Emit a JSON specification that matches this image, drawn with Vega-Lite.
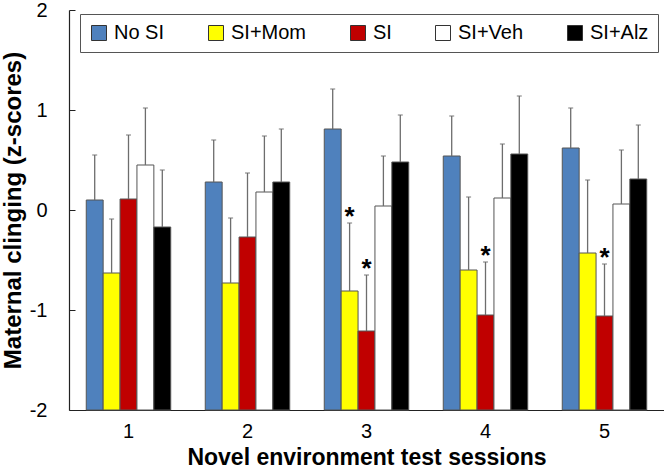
{
  "$schema": "https://vega.github.io/schema/vega-lite/v6.json",
  "width": 595,
  "height": 400,
  "autosize": {"type": "none"},
  "padding": {"left": 69, "top": 10, "right": 0, "bottom": 62},
  "background": "white",
  "config": {
    "font": "Liberation Sans",
    "view": {"stroke": null}
  },
  "data": {
    "values": [
      {"session": "1", "group": "No SI", "value": 0.10, "err": 0.55, "star": ""},
      {"session": "1", "group": "SI+Mom", "value": -0.63, "err": -0.09, "star": ""},
      {"session": "1", "group": "SI", "value": 0.11, "err": 0.75, "star": ""},
      {"session": "1", "group": "SI+Veh", "value": 0.45, "err": 1.02, "star": ""},
      {"session": "1", "group": "SI+Alz", "value": -0.17, "err": 0.40, "star": ""},
      {"session": "2", "group": "No SI", "value": 0.28, "err": 0.70, "star": ""},
      {"session": "2", "group": "SI+Mom", "value": -0.73, "err": -0.08, "star": ""},
      {"session": "2", "group": "SI", "value": -0.27, "err": 0.37, "star": ""},
      {"session": "2", "group": "SI+Veh", "value": 0.18, "err": 0.74, "star": ""},
      {"session": "2", "group": "SI+Alz", "value": 0.28, "err": 0.81, "star": ""},
      {"session": "3", "group": "No SI", "value": 0.81, "err": 1.21, "star": ""},
      {"session": "3", "group": "SI+Mom", "value": -0.81, "err": -0.13, "star": "*"},
      {"session": "3", "group": "SI", "value": -1.21, "err": -0.65, "star": "*"},
      {"session": "3", "group": "SI+Veh", "value": 0.04, "err": 0.54, "star": ""},
      {"session": "3", "group": "SI+Alz", "value": 0.48, "err": 0.95, "star": ""},
      {"session": "4", "group": "No SI", "value": 0.54, "err": 0.94, "star": ""},
      {"session": "4", "group": "SI+Mom", "value": -0.60, "err": 0.13, "star": ""},
      {"session": "4", "group": "SI", "value": -1.05, "err": -0.52, "star": "*"},
      {"session": "4", "group": "SI+Veh", "value": 0.12, "err": 0.66, "star": ""},
      {"session": "4", "group": "SI+Alz", "value": 0.56, "err": 1.14, "star": ""},
      {"session": "5", "group": "No SI", "value": 0.62, "err": 1.02, "star": ""},
      {"session": "5", "group": "SI+Mom", "value": -0.43, "err": 0.30, "star": ""},
      {"session": "5", "group": "SI", "value": -1.06, "err": -0.54, "star": "*"},
      {"session": "5", "group": "SI+Veh", "value": 0.06, "err": 0.60, "star": ""},
      {"session": "5", "group": "SI+Alz", "value": 0.31, "err": 0.85, "star": ""}
    ]
  },
  "encoding": {
    "x": {
      "field": "session",
      "type": "nominal",
      "scale": {"paddingInner": 0.29, "paddingOuter": 0.145},
      "axis": {
        "title": "Novel environment test sessions",
        "titleFontSize": 23,
        "titleFontWeight": "bold",
        "titleColor": "#000",
        "titlePadding": 5,
        "labelAngle": 0,
        "labelFontSize": 20,
        "labelColor": "#000",
        "labelPadding": 11,
        "ticks": false,
        "domainColor": "#222",
        "domainWidth": 1.2
      }
    },
    "xOffset": {
      "field": "group",
      "type": "nominal",
      "sort": ["No SI", "SI+Mom", "SI", "SI+Veh", "SI+Alz"],
      "scale": {"paddingInner": 0, "paddingOuter": 0}
    }
  },
  "layer": [
    {
      "mark": {"type": "bar", "stroke": "#555", "strokeWidth": 1},
      "encoding": {
        "y": {
          "field": "value",
          "type": "quantitative",
          "scale": {"domain": [-2, 2], "nice": false, "zero": false},
          "axis": {
            "title": "Maternal clinging (z-scores)",
            "titleFontSize": 24,
            "titleFontWeight": "bold",
            "titleColor": "#000",
            "titlePadding": 4,
            "values": [-2, -1, 0, 1, 2],
            "labelExpr": "'' + datum.value",
            "grid": false,
            "labelFontSize": 20,
            "labelColor": "#000",
            "tickSize": -6,
            "tickColor": "#222",
            "labelPadding": 28,
            "domainColor": "#222",
            "domainWidth": 1.2
          }
        },
        "y2": {"datum": -2},
        "color": {
          "field": "group",
          "type": "nominal",
          "sort": ["No SI", "SI+Mom", "SI", "SI+Veh", "SI+Alz"],
          "scale": {
            "domain": ["No SI", "SI+Mom", "SI", "SI+Veh", "SI+Alz"],
            "range": ["#4f81bd", "#ffff00", "#c00000", "#ffffff", "#000000"]
          },
          "legend": {
            "title": null,
            "orient": "none",
            "legendX": 11,
            "legendY": 4,
            "direction": "horizontal",
            "columns": 5,
            "columnPadding": 41,
            "symbolType": "square",
            "symbolSize": 225,
            "symbolStrokeColor": "#333",
            "symbolStrokeWidth": 1,
            "symbolOpacity": 1,
            "labelFontSize": 20,
            "labelColor": "#000",
            "labelOffset": 5,
            "padding": 9,
            "strokeColor": "#555",
            "fillColor": "white"
          }
        }
      }
    },
    {
      "mark": {"type": "rule", "color": "#6d6d6d", "strokeWidth": 1.3},
      "encoding": {
        "y": {"field": "value", "type": "quantitative"},
        "y2": {"field": "err"}
      }
    },
    {
      "mark": {"type": "tick", "color": "#6d6d6d", "thickness": 1.3, "size": 5, "orient": "horizontal"},
      "encoding": {
        "y": {"field": "err", "type": "quantitative"}
      }
    },
    {
      "transform": [{"filter": "datum.star == '*'"}],
      "mark": {"type": "text", "fontSize": 26, "fontWeight": "bold", "color": "#000", "baseline": "middle", "dy": -6},
      "encoding": {
        "y": {"field": "err", "type": "quantitative"},
        "text": {"field": "star"}
      }
    }
  ]
}
